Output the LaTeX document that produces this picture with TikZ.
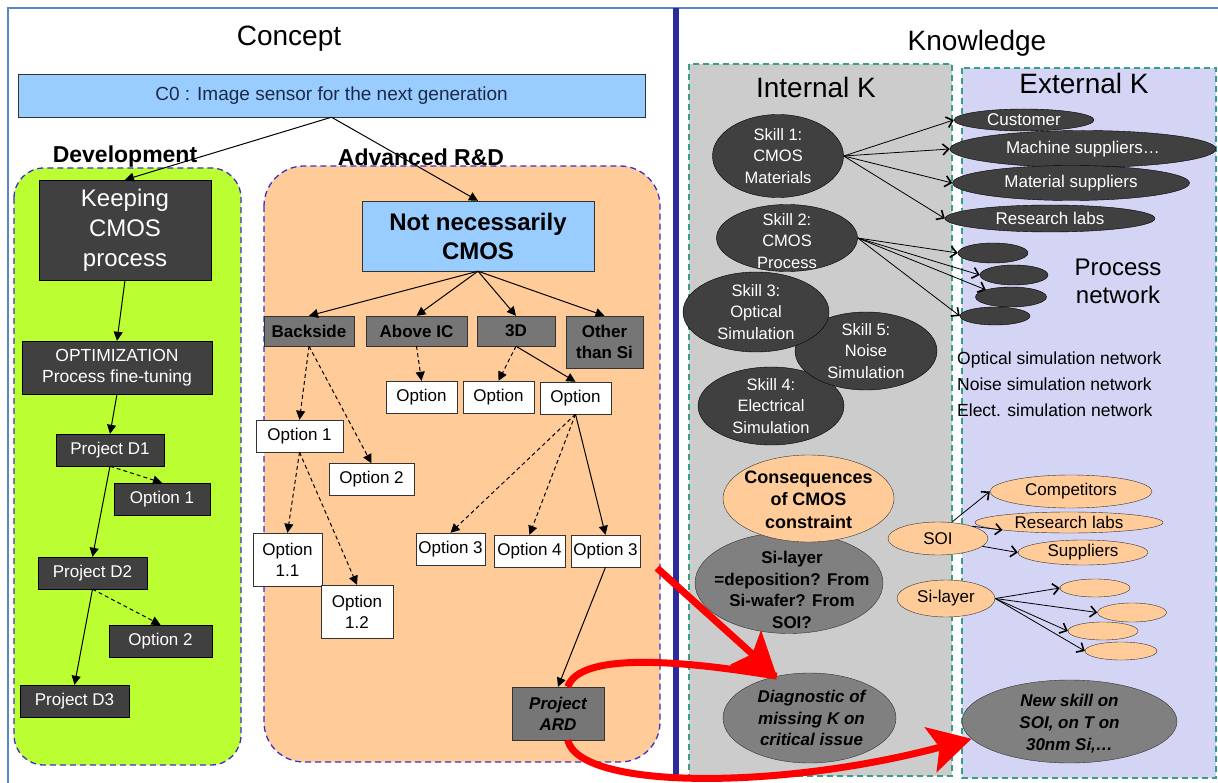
\documentclass[tikz,border=0pt]{standalone}
\usepackage{fontspec}
\setmainfont{Liberation Sans}
\usetikzlibrary{arrows.meta,shapes.geometric}
\definecolor{frameblue}{HTML}{5B86C5}
\definecolor{sky}{HTML}{99CCFF}
\definecolor{limegreen}{HTML}{BBFF33}
\definecolor{peach}{HTML}{FFCC99}
\definecolor{charcoal}{HTML}{404040}
\definecolor{slate}{HTML}{767676}
\definecolor{ashgray}{HTML}{808080}
\definecolor{panelgray}{HTML}{CCCCCC}
\definecolor{lilac}{HTML}{D4D4F5}
\definecolor{tealdash}{HTML}{35A08A}
\definecolor{zoneblue}{HTML}{3A2FD0}
\definecolor{navy}{HTML}{2B2B9B}
\definecolor{inkblue}{HTML}{1C2A4A}
\newcommand{\fsz}[2]{\fontsize{#1}{#2}\selectfont}
\begin{document}
\begin{tikzpicture}[x=1pt,y=-1pt,every node/.style={align=center,inner sep=0pt},
  title/.style={font=\fsz{28}{30}},head/.style={font=\bfseries\fsz{23}{26}},
  zone/.style={draw=zoneblue,line width=1.3pt,dash pattern=on 6pt off 4pt},
  panel/.style={draw=tealdash,line width=1.2pt,dash pattern=on 6pt off 4pt},
  dbox/.style={draw=black,fill=charcoal,text=white,font=\fsz{17}{20}},
  gbox/.style={draw=black!80,fill=slate,font=\bfseries\fsz{17}{21}},
  obox/.style={draw=black!80,fill=white,font=\fsz{17}{21},minimum height=32},
  skill/.style={ellipse,draw=black,fill=charcoal},skilltext/.style={text=white,font=\fsz{16.5}{21.5}},
  ext/.style={ellipse,draw=black,fill=charcoal,text=white,font=\fsz{17}{20}},
  ora/.style={ellipse,draw=black!80,fill=peach,font=\fsz{17}{20}},
  gell/.style={ellipse,draw=black!80,fill=ashgray},issue/.style={font=\bfseries\fsz{17}{21.7}},
  arr/.style={-{Triangle[length=9pt,width=9pt]},line width=1pt},darr/.style={arr,dash pattern=on 4pt off 3pt},
  karr/.style={-{Straight Barb[length=6pt,width=11pt,line width=1.6pt]},line width=0.8pt},
  bigarr/.style={draw=red,line width=7pt,-{Stealth[length=42pt,width=46pt,inset=9pt]}},
  redline/.style={draw=red,line width=7pt}]
\fill[white] (0,0) rectangle (1218,783);
\useasboundingbox (0,0) rectangle (1218,783);
\draw[frameblue,line width=1.5pt] (8,783) -- (8,8) -- (1218,8);
\draw[zone,fill=limegreen,rounded corners=30pt] (14,168) rectangle (241,765);
\draw[zone,fill=peach,rounded corners=40pt] (264,166) rectangle (660,762);
\draw[panel,fill=panelgray] (689,64) rectangle (952,776);
\draw[panel,fill=lilac] (962,68) rectangle (1216,778);
\draw[navy,line width=6pt] (676,8) -- (676,776);

\node[title] (concept) at (289,39) {Concept};
\node[title] (knowledge) at (977,43) {Knowledge};
\node[title] (intk) at (816,87) {Internal K};
\node[title] (extk) at (1084,83) {External K};
\node[head] (dev) at (125,157) {Development};
\node[head] (adv) at (421,157) {Advanced R\&D};

\node[draw=black!80,fill=sky,text=inkblue,minimum width=627,minimum height=43,font=\fsz{19}{22}] (c0) at (331.5,95.5) {C0 : Image sensor for the next generation};
\node[dbox,minimum width=172,minimum height=100,font=\fsz{24}{30}] (keep) at (125,230) {Keeping\\CMOS\\process};
\node[dbox,minimum width=190,minimum height=53,font=\fsz{17.5}{21}] (optim) at (117,367.5) {OPTIMIZATION\\Process fine-tuning};
\node[dbox,minimum width=108,minimum height=32] (pd1) at (110,450) {Project D1};
\node[dbox,minimum width=96,minimum height=32] (dopt1) at (162,499) {Option 1};
\node[dbox,minimum width=109,minimum height=32] (pd2) at (92.5,573) {Project D2};
\node[dbox,minimum width=103,minimum height=32] (dopt2) at (160.5,641) {Option 2};
\node[dbox,minimum width=109,minimum height=32] (pd3) at (74.5,701) {Project D3};

\node[draw=black!80,fill=sky,minimum width=232,minimum height=70,font=\bfseries\fsz{24}{29}] (notcmos) at (478,236) {Not necessarily\\CMOS};
\node[gbox,minimum width=90,minimum height=30] (back) at (309,331) {Backside};
\node[gbox,minimum width=101,minimum height=30] (above) at (416.5,331) {Above IC};
\node[gbox,minimum width=78,minimum height=30] (threed) at (516,331) {3D};
\node[gbox,minimum width=77,minimum height=52] (other) at (604.5,342) {Other\\than Si};
\node[obox,minimum width=71] (optA) at (421.5,397) {Option};
\node[obox,minimum width=71] (optB) at (498.5,397) {Option};
\node[obox,minimum width=71] (optC) at (575.5,398) {Option};
\node[obox,minimum width=87] (opt1) at (299.5,436) {Option 1};
\node[obox,minimum width=85] (opt2) at (371.5,479.5) {Option 2};
\node[obox,minimum width=69,minimum height=53] (opt11) at (287.5,559.5) {Option\\1.1};
\node[obox,minimum width=72,minimum height=53] (opt12) at (357,611.5) {Option\\1.2};
\node[obox,minimum width=69] (opt3) at (450.5,549) {Option 3};
\node[obox,minimum width=71] (opt4) at (529.5,551) {Option 4};
\node[obox,minimum width=69] (opt3b) at (605.5,551) {Option 3};
\node[gbox,minimum width=92,minimum height=53,font=\bfseries\itshape\fsz{17}{21}] (ard) at (558,713.5) {Project\\ARD};

\node[skill,minimum width=146,minimum height=78,label={[skilltext]center:{Skill 4:\\Electrical\\Simulation}}] (s4) at (771,406) {};
\node[skill,minimum width=142,minimum height=78,label={[skilltext]center:{Skill 5:\\Noise\\Simulation}}] (s5) at (866,351) {};
\node[skill,minimum width=146,minimum height=80,label={[skilltext]center:{Skill 3:\\Optical\\Simulation}}] (s3) at (756,312) {};
\node[skill,minimum width=141,minimum height=67,label={[skilltext,yshift=-3pt]center:{Skill 2:\\CMOS\\Process}}] (s2) at (787,238) {};
\node[skill,minimum width=131,minimum height=83,label={[skilltext]center:{Skill 1:\\CMOS\\Materials}}] (s1) at (778,156) {};

\node[ext,minimum width=140,minimum height=22] (cust) at (1024,120) {Customer};
\node[ext,minimum width=266,minimum height=37] (mach) at (1083,149) {Machine suppliers…};
\node[ext,minimum width=237,minimum height=35] (mat) at (1071,183) {Material suppliers};
\node[ext,minimum width=210,minimum height=27] (rlab) at (1050,218.5) {Research labs};
\node[ext,minimum width=70,minimum height=20] (pa) at (993,253) {};
\node[ext,minimum width=68,minimum height=20] (pb) at (1014,275) {};
\node[ext,minimum width=71,minimum height=20] (pc) at (1011,297) {};
\node[ext,minimum width=70,minimum height=18] (pd) at (995,316) {};
\node[font=\fsz{24}{28}] (procnet) at (1118,281) {Process\\network};
\node[align=left,anchor=west,font=\fsz{17.5}{26}] (simnet) at (957,384) {Optical simulation network\\Noise simulation network\\Elect. simulation network};

\node[gell,minimum width=188,minimum height=101,label={[issue,xshift=3pt,yshift=-7pt]center:{Si-layer\\=deposition? From\\Si-wafer? From\\SOI?}}] (silq) at (789,583) {};
\node[ora,minimum width=171,minimum height=87,label={[issue,font=\bfseries\fsz{18}{22.5},yshift=-1pt]center:{Consequences\\of CMOS\\constraint}}] (conseq) at (808.5,498.5) {};
\node[gell,minimum width=173,minimum height=90,label={[issue,font=\bfseries\itshape\fsz{17}{21.7},xshift=2pt]center:{Diagnostic of\\missing K on\\critical issue}}] (diag) at (809.5,718) {};
\node[gell,minimum width=215,minimum height=83,label={[issue,font=\bfseries\itshape\fsz{17}{21.7},yshift=-2pt]center:{New skill on\\SOI, on T on\\30nm Si,…}}] (newskill) at (1069.5,721.5) {};
\node[ora,minimum width=162,minimum height=33] (comp) at (1071,491.5) {Competitors};
\node[ora,minimum width=188,minimum height=21] (rlab2) at (1069,522.5) {Research labs};
\node[ora,minimum width=130,minimum height=25] (supp) at (1083,552.5) {Suppliers};
\node[ora,minimum width=100,minimum height=33] (soi) at (938,538.5) {SOI};
\node[ora,minimum width=98,minimum height=37] (sil) at (946,598.5) {Si-layer};
\node[ora,minimum width=70,minimum height=18] (e1) at (1095,588) {};
\node[ora,minimum width=69,minimum height=19] (e2) at (1132,612.5) {};
\node[ora,minimum width=70,minimum height=18] (e3) at (1103,631) {};
\node[ora,minimum width=72,minimum height=18] (e4) at (1121,651) {};

\draw[arr] (c0.south) -- (keep.north);
\draw[arr] (c0.south) -- (notcmos.north);
\draw[arr] (keep.south) -- (optim.north);
\draw[arr] (optim.south) -- (pd1.north);
\draw[arr] (pd1.south) -- (pd2.north);
\draw[darr] (pd1.south) -- (dopt1.north);
\draw[arr] (pd2.south) -- (pd3.north);
\draw[darr] (pd2.south) -- (dopt2.north);
\draw[arr] (notcmos.south) -- (back.north);
\draw[arr] (notcmos.south) -- (above.north);
\draw[arr] (notcmos.south) -- (threed.north);
\draw[arr] (notcmos.south) -- (other.north);
\draw[darr] (back.south) -- (opt1.north);
\draw[darr] (back.south) -- (opt2.north);
\draw[darr] (opt1.south) -- (opt11.north);
\draw[darr] (opt1.south) -- (opt12.north);
\draw[darr] (above.south) -- (optA.north);
\draw[darr] (threed.south) -- (optB.north);
\draw[arr] (threed.south) -- (optC.north);
\draw[darr] (optC.south) -- (opt3.north);
\draw[darr] (optC.south) -- (opt4.north);
\draw[arr] (optC.south) -- (opt3b.north);
\draw[arr] (opt3b.south) -- (ard.north);

\draw[karr] (s1.east) -- (cust.west);
\draw[karr] (s1.east) -- (mach.west);
\draw[karr] (s1.east) -- (mat.west);
\draw[karr] (s1.east) -- (rlab.west);
\draw[karr] (s2.east) -- (pa.west);
\draw[karr] (s2.east) -- (pb.west);
\draw[karr] (s2.east) -- (pc.north west);
\draw[karr] (s2.east) -- (pd.west);
\draw[karr] (soi.50) -- (comp.west);
\draw[karr] (soi.20) -- (rlab2.south west);
\draw[karr] (soi.-10) -- (supp.west);
\draw[karr] (sil.east) -- (e1.west);
\draw[karr] (sil.east) -- (e2.west);
\draw[karr] (sil.east) -- (e3.west);
\draw[karr] (sil.east) -- (e4.west);

\coordinate (redtail) at (657,568);
\draw[bigarr] (redtail) -- (diag.128);
\draw[redline] (ard.70) .. controls (580,652) and (680,660) .. (diag.128);
\draw[bigarr] (ard.-70) .. controls (580,790) and (780,790) .. (newskill.190);
\end{tikzpicture}
\end{document}
